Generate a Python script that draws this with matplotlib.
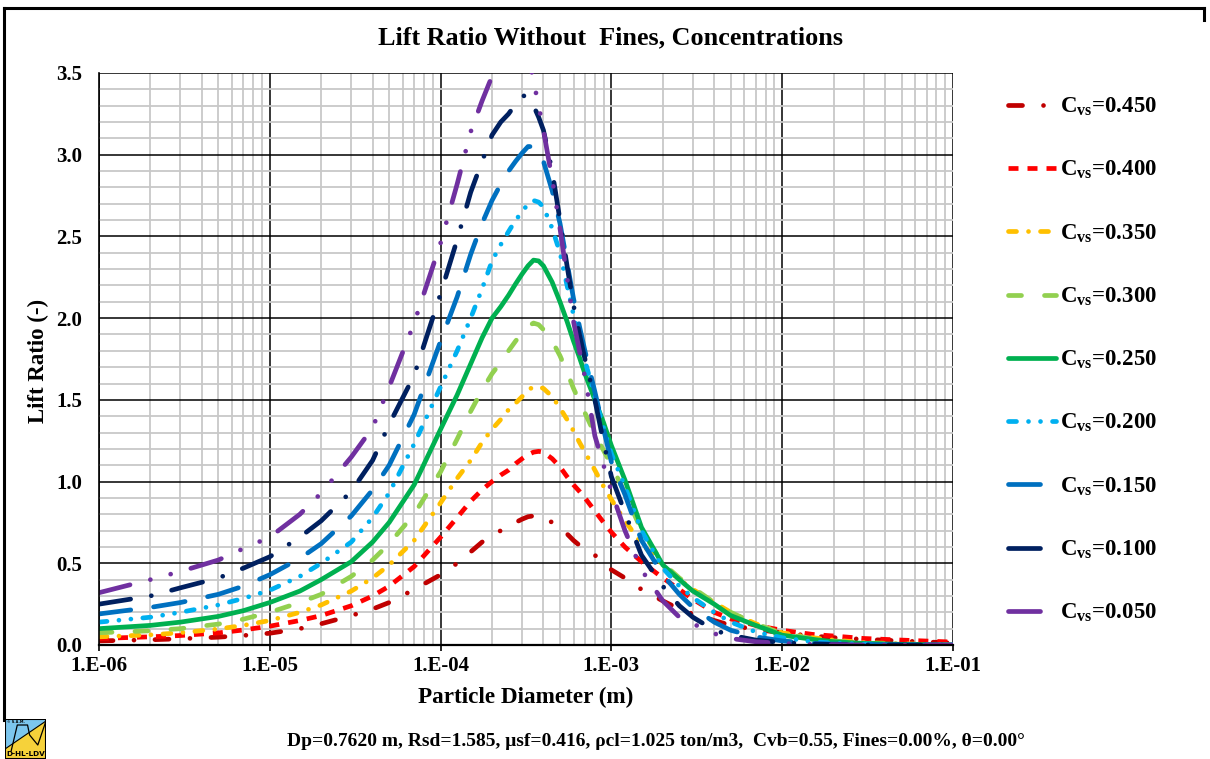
import matplotlib
matplotlib.use("Agg")
import matplotlib.pyplot as plt
from matplotlib.lines import Line2D
from matplotlib.patches import Polygon, Rectangle
from matplotlib.ticker import LogLocator, NullFormatter, MultipleLocator

plt.rcParams['font.family'] = ['Liberation Serif', 'DejaVu Serif']
plt.rcParams['font.weight'] = 'bold'
plt.rcParams['mathtext.fontset'] = 'custom'
plt.rcParams['mathtext.rm'] = 'Liberation Serif:bold'
plt.rcParams['mathtext.it'] = 'Liberation Serif:bold'
plt.rcParams['mathtext.bf'] = 'Liberation Serif:bold'
plt.rcParams['mathtext.default'] = 'rm'
plt.rcParams['lines.scale_dashes'] = False

# ---------------- data ----------------
diameter_m = [1e-6, 2e-6, 3e-6, 5e-6, 7e-6, 1e-5, 1.5e-5, 2e-5, 3e-5, 4e-5, 5e-5, 7e-5,
              1e-4, 1.25e-4, 1.5e-4, 1.75e-4, 2e-4, 2.25e-4, 2.5e-4, 2.75e-4, 3e-4,
              3.25e-4, 3.5e-4, 3.75e-4, 4e-4, 4.5e-4, 5e-4, 5.5e-4, 6e-4, 6.5e-4,
              7e-4, 8e-4, 9e-4, 1e-3, 1.2e-3, 1.5e-3, 2e-3, 2.5e-3, 3e-3, 4e-3,
              5e-3, 7e-3, 1e-2, 1.5e-2, 2e-2, 3e-2, 5e-2, 1e-1]

lr_cvs_0450 = [0.025, 0.032, 0.038, 0.048, 0.058, 0.072, 0.10, 0.13, 0.18, 0.22, 0.26, 0.34,
               0.43, 0.50, 0.57, 0.63, 0.67, 0.70, 0.73, 0.75, 0.77,
               0.785, 0.79, 0.79, 0.78, 0.75, 0.72, 0.68, 0.64, 0.61,
               0.59, 0.55, 0.50, 0.46, 0.41, 0.34, 0.27, 0.22, 0.19, 0.15,
               0.12, 0.095, 0.075, 0.055, 0.045, 0.035, 0.025, 0.012]
lr_cvs_0400 = [0.04, 0.05, 0.058, 0.074, 0.092, 0.115, 0.15, 0.18, 0.24, 0.30, 0.36, 0.48,
               0.66, 0.78, 0.88, 0.95, 1.00, 1.04, 1.07, 1.11, 1.14,
               1.165, 1.18, 1.185, 1.18, 1.14, 1.09, 1.03, 0.98, 0.94,
               0.90, 0.82, 0.75, 0.69, 0.60, 0.51, 0.41, 0.34, 0.28, 0.20,
               0.16, 0.12, 0.09, 0.065, 0.055, 0.04, 0.03, 0.018]
lr_cvs_0350 = [0.05, 0.062, 0.075, 0.098, 0.12, 0.15, 0.20, 0.245, 0.33, 0.41, 0.49, 0.64,
               0.87, 1.02, 1.13, 1.24, 1.32, 1.38, 1.44, 1.48, 1.52,
               1.56, 1.58, 1.58, 1.57, 1.52, 1.45, 1.38, 1.31, 1.24,
               1.18, 1.07, 0.97, 0.89, 0.76, 0.62, 0.49, 0.40, 0.34, 0.26,
               0.20, 0.13, 0.075, 0.045, 0.03, 0.015, 0.007, 0.002]
lr_cvs_0300 = [0.075, 0.087, 0.10, 0.128, 0.158, 0.20, 0.26, 0.31, 0.42, 0.52, 0.62, 0.80,
               1.06, 1.26, 1.43, 1.56, 1.66, 1.73, 1.80, 1.86, 1.91,
               1.95, 1.97, 1.96, 1.93, 1.86, 1.77, 1.67, 1.57, 1.49,
               1.42, 1.29, 1.19, 1.10, 0.93, 0.70, 0.50, 0.41, 0.35, 0.26,
               0.20, 0.13, 0.07, 0.04, 0.025, 0.012, 0.005, 0.001]
lr_cvs_0250 = [0.10, 0.12, 0.14, 0.175, 0.21, 0.26, 0.33, 0.40, 0.51, 0.63, 0.75, 0.98,
               1.32, 1.53, 1.72, 1.88, 2.00, 2.07, 2.14, 2.21, 2.27,
               2.32, 2.355, 2.35, 2.32, 2.22, 2.10, 1.98, 1.86, 1.76,
               1.66, 1.50, 1.36, 1.22, 1.01, 0.72, 0.49, 0.40, 0.33, 0.25,
               0.18, 0.12, 0.06, 0.035, 0.02, 0.01, 0.004, 0.0]
lr_cvs_0200 = [0.14, 0.17, 0.20, 0.245, 0.285, 0.335, 0.42, 0.50, 0.63, 0.78, 0.93, 1.23,
               1.58, 1.80, 2.00, 2.18, 2.35, 2.45, 2.53, 2.60, 2.65,
               2.70, 2.72, 2.71, 2.68, 2.55, 2.40, 2.20, 2.02, 1.87,
               1.74, 1.52, 1.33, 1.17, 0.97, 0.70, 0.47, 0.36, 0.29, 0.20,
               0.14, 0.08, 0.045, 0.02, 0.012, 0.006, 0.002, 0.0]
lr_cvs_0150 = [0.19, 0.23, 0.26, 0.31, 0.36, 0.43, 0.53, 0.62, 0.79, 0.95, 1.10, 1.41,
               1.86, 2.13, 2.39, 2.58, 2.72, 2.82, 2.90, 2.96, 3.01,
               3.05, 3.05, 3.02, 2.96, 2.78, 2.58, 2.34, 2.12, 1.95,
               1.80, 1.55, 1.32, 1.12, 0.92, 0.64, 0.43, 0.31, 0.23, 0.14,
               0.09, 0.05, 0.025, 0.01, 0.006, 0.003, 0.001, 0.0]
lr_cvs_0100 = [0.25, 0.30, 0.35, 0.41, 0.47, 0.54, 0.66, 0.76, 0.94, 1.13, 1.35, 1.65,
               2.15, 2.48, 2.77, 2.96, 3.12, 3.20, 3.25, 3.31, 3.36,
               3.36, 3.30, 3.23, 3.15, 2.90, 2.60, 2.32, 2.08, 1.90,
               1.75, 1.50, 1.24, 1.03, 0.81, 0.55, 0.36, 0.24, 0.17, 0.09,
               0.06, 0.03, 0.015, 0.006, 0.003, 0.001, 0.0, 0.0]
lr_cvs_0050 = [0.32, 0.40, 0.45, 0.52, 0.59, 0.66, 0.80, 0.93, 1.15, 1.33, 1.58, 1.97,
               2.46, 2.82, 3.14, 3.33, 3.48, 3.60, 3.68, 3.72, 3.72,
               3.62, 3.45, 3.30, 3.15, 2.85, 2.55, 2.25, 1.98, 1.80,
               1.64, 1.28, 1.10, 0.94, 0.70, 0.46, 0.27, 0.17, 0.13, 0.07,
               0.04, 0.02, 0.01, 0.004, 0.002, 0.0, 0.0, 0.0]

series_labels = ['0.450', '0.400', '0.350', '0.300', '0.250', '0.200', '0.150', '0.100', '0.050']
series_values = [lr_cvs_0450, lr_cvs_0400, lr_cvs_0350, lr_cvs_0300, lr_cvs_0250,
                 lr_cvs_0200, lr_cvs_0150, lr_cvs_0100, lr_cvs_0050]
series_colors = ['#C00000', '#FF0000', '#FFC000', '#92D050', '#00B050',
                 '#00B0F0', '#0070C0', '#002060', '#7030A0']

x_tick_values = [1e-6, 1e-5, 1e-4, 1e-3, 1e-2, 1e-1]
x_tick_labels = ['1.E-06', '1.E-05', '1.E-04', '1.E-03', '1.E-02', '1.E-01']
y_tick_values = [0.0, 0.5, 1.0, 1.5, 2.0, 2.5, 3.0, 3.5]
y_tick_labels = ['0.0', '0.5', '1.0', '1.5', '2.0', '2.5', '3.0', '3.5']

# dash patterns (points), cap style
P = 0.72  # px -> pt at 100 dpi
styles = [
    dict(dashes=[14 * P, 21 * P, 0.01, 21 * P], cap='round'),
    dict(dashes=[10 * P, 9 * P], cap='butt'),
    dict(dashes=[8 * P, 12 * P, 0.01, 12 * P], cap='round'),
    dict(dashes=[13 * P, 23 * P], cap='round'),
    dict(dashes=None, cap='round'),
    dict(dashes=[8 * P, 12 * P, 0.01, 12 * P, 0.01, 12 * P], cap='round'),
    dict(dashes=[32 * P, 23 * P], cap='round'),
    dict(dashes=[32 * P, 21 * P, 0.01, 21 * P], cap='round'),
    dict(dashes=[32 * P, 21 * P, 0.01, 21 * P, 0.01, 21 * P], cap='round'),
]

W, H = 1210, 759
fig = plt.figure(figsize=(W / 100, H / 100), dpi=100)
fig.patch.set_facecolor('white')

L, R, T, B = 99, 953, 73, 645
ax = fig.add_axes([L / W, 1 - B / H, (R - L) / W, (B - T) / H])
ax.set_xscale('log')
ax.set_xlim(1e-6, 1e-1)
ax.set_ylim(0, 3.5)

ax.set_xticks(x_tick_values)
ax.set_xticklabels(x_tick_labels)
ax.xaxis.set_minor_locator(LogLocator(base=10, subs=[2, 3, 4, 5, 6, 7, 8, 9], numticks=20))
ax.xaxis.set_minor_formatter(NullFormatter())
ax.set_yticks(y_tick_values)
ax.set_yticklabels(y_tick_labels)
ax.yaxis.set_minor_locator(MultipleLocator(0.1))

ax.grid(which='minor', color='#C8C8C8', lw=1.3)
ax.grid(which='major', color='#000000', lw=1.1)
ax.set_axisbelow(True)
ax.tick_params(axis='x', which='major', length=4, width=1.2, direction='out', pad=4,
               labelsize=15)
ax.tick_params(axis='x', which='minor', length=0)
ax.tick_params(axis='y', which='both', length=0, pad=12, labelsize=15)
for lab in ax.get_xticklabels() + ax.get_yticklabels():
    lab.set_fontweight('bold')
for s in ['top', 'right']:
    ax.spines[s].set_visible(False)
ax.spines['left'].set_linewidth(1.2)
ax.spines['bottom'].set_linewidth(1.6)

handles = []
for vals, lab, col, st in zip(series_values, series_labels, series_colors, styles):
    ln, = ax.plot(diameter_m, vals, color=col, lw=3.4, solid_capstyle='round',
                  solid_joinstyle='round', label=r'C$_{\mathrm{vs}}$=' + lab)
    if st['dashes'] is not None:
        ln.set_dashes(st['dashes'])
        ln.set_dash_capstyle(st['cap'])
    handles.append(ln)

leg = fig.legend(handles=handles, loc='center left',
                 bbox_to_anchor=(1008 / W, 1 - 360 / H), frameon=False,
                 prop={'family': 'Liberation Serif', 'weight': 'bold', 'size': 16.5},
                 handlelength=2.1, handletextpad=0.18, labelspacing=1.79,
                 borderpad=0, borderaxespad=0)

fig.text(610 / W, 1 - 38 / H, 'Lift Ratio Without  Fines, Concentrations', ha='center',
         va='center', fontsize=18.8, fontweight='bold')
fig.text(526 / W, 1 - 697 / H, 'Particle Diameter (m)', ha='center', va='center',
         fontsize=16.7, fontweight='bold')
fig.text(38 / W, 1 - 361 / H, 'Lift Ratio (-)', ha='center', va='center', rotation=90,
         fontsize=16.5, fontweight='bold')
fig.text(656 / W, 1 - 742 / H,
         'Dp=0.7620 m, Rsd=1.585, \u03bcsf=0.416, \u03c1cl=1.025 ton/m3,  Cvb=0.55, '
         'Fines=0.00%, \u03b8=0.00\u00b0',
         ha='center', va='center', fontsize=14, fontweight='bold')

# outer chart frame (top and left edges visible)
fig.add_artist(Line2D([4 / W, 1204 / W], [1 - 8 / H, 1 - 8 / H], color='black', lw=2.2))
fig.add_artist(Line2D([4 / W, 4 / W], [1 - 8 / H, 1 - 720 / H], color='black', lw=2.2))
fig.add_artist(Line2D([1204 / W, 1204 / W], [1 - 8 / H, 1 - 20 / H], color='black', lw=2.2))

# small logo bottom-left
lax = fig.add_axes([5 / W, 0, 41 / W, 40 / H])
lax.set_xlim(0, 1)
lax.set_ylim(0, 1)
lax.axis('off')
lax.add_patch(Rectangle((0, 0), 1, 1, facecolor='#F6D23A', edgecolor='none'))
lax.add_patch(Polygon([[0, 0.25], [0, 1], [1, 1], [1, 0.95]], facecolor='#7CC6EE',
                      edgecolor='none'))
lax.plot([0, 1], [0.25, 0.95], color='black', lw=0.8)
lax.plot([0.15, 0.3, 0.55, 0.6, 0.8, 1.0], [0.2, 0.85, 0.85, 0.6, 0.35, 0.95],
         color='black', lw=0.9)
lax.add_patch(Rectangle((0, 0), 1, 1, facecolor='none', edgecolor='black', lw=1.5))
lax.text(0.5, 0.13, 'D-HL-LDV', ha='center', va='center', fontsize=5.2,
         family='DejaVu Sans', fontweight='bold')
lax.text(0.05, 0.92, '\u00a9 S.A.M.', ha='left', va='center', fontsize=2.5,
         family='DejaVu Sans')

fig.savefig('out.png', dpi=100, facecolor='white')
